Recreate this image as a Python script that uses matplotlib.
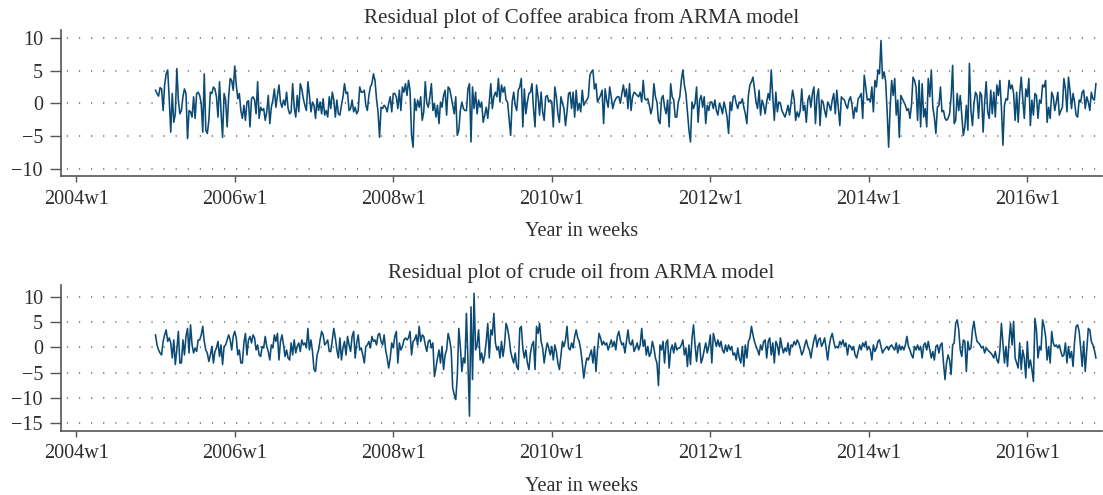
import numpy as np
import matplotlib
matplotlib.use("Agg")
import matplotlib.pyplot as plt

# weekly residuals, first observation is 2005w1 (week 52 counted from 2004w1)
start_week = 52

coffee_resid = [
    2.0, 1.5, 1.1, 2.4, 2.2, -1.1, 2.8, 4.5, 5.1, 0.7,
    -4.4, 1.5, -2.9, -1.6, 5.3, 0.5, -1.6, -1.1, 1.0, 2.2,
    1.5, -5.4, -1.1, -1.3, -2.1, 1.0, -2.3, 1.5, 1.7, 1.2,
    0.0, -4.4, 4.5, -4.1, -4.6, -2.6, 1.7, 1.5, 2.5, 2.2,
    1.0, -2.1, 3.3, -1.3, -5.2, 1.5, 0.5, -3.6, 1.0, 3.8,
    3.5, 2.0, 5.7, 2.8, 0.7, 1.5, -1.1, -2.3, -0.3, -2.6,
    0.2, 0.4, -3.6, 0.7, 1.0, 0.5, -1.6, 3.3, -2.3, -0.6,
    -1.1, -0.8, -2.6, -1.3, 1.2, -3.1, -0.6, 0.5, 2.2, -0.6,
    1.2, 2.8, 0.2, -0.6, 0.5, -0.3, 1.7, -0.8, -1.6, -1.3,
    3.0, -0.6, -2.1, 1.2, -1.3, 3.0, 2.2, 0.7, -0.3, -1.1,
    3.3, 1.2, -1.3, 0.2,
    -0.3, -2.3, 0.7, -1.1, 0.2, -1.6, 0.7, -1.8, -1.1, -2.1,
    1.0, -0.8, 1.7, 0.5, -2.1, 0.5, -1.6, -1.8, -0.3, 1.0,
    3.0, 1.5, 1.7, -1.1, -0.8, 0.5, -1.3, -0.6, -1.6, -1.1,
    2.5, 1.7, 1.7, 2.0, -0.3, -1.1, 1.2, 2.5, 3.0, 4.5,
    3.5, 0.7, -1.3, -5.2, -0.6, -0.8, -0.3, -0.6, -1.3, 0.0,
    1.0, -1.3, 1.5, 1.5, 1.0, -0.8, 2.0, -1.1, 2.5, 1.7,
    3.0, 1.2, 3.5, 2.0, -4.9, -6.7, 0.7, -1.1, 0.5, -0.6,
    1.0, -2.6, -1.3, 3.3, 0.0, -0.6, 1.0, 3.0, -1.1, 0.0,
    -2.1, -0.3, -3.1, 0.2, -0.6, 1.2, 2.0, -1.8, 2.5, 2.2,
    1.0, -0.3, -1.6, 1.0, -4.9, -4.1, -1.1, 0.2, -0.8, -1.1,
    -1.1, 2.2, 3.0, -5.9,
    2.5, -0.8, 1.7, -1.6, 0.5, -0.6, 0.2, -2.9, -1.8, -0.6,
    -2.3, 0.2, 3.0, -0.8, 1.0, 1.7, 1.0, 3.8, 0.2, 2.8,
    1.7, 2.5, 0.5, 0.2, -2.3, -4.9, 0.2, 1.7, -0.3, -1.1,
    2.0, 2.5, 3.8, -3.6, 2.2, -1.6, 0.2, 1.5, 1.7, 3.0,
    -0.8, -3.6, 2.8, 1.0, -1.8, 1.7, -1.3, -2.6, 1.0, 1.2,
    0.2, 0.5, 0.2, -3.6, 2.5, 1.0, -1.6, -2.9, 1.0, 0.0,
    -0.8, -3.4, -1.3, 1.5, 1.7, -0.8, 1.7, -2.1, 2.0, -1.1,
    0.0, -1.3, 2.0, -0.3, 0.2, 0.5, 1.0, 4.3, 4.8, 5.1,
    2.2, 3.0, 0.2, 0.7, 1.2, 2.0, -3.1, 2.2, 0.5, -0.6,
    2.5, 1.0, -0.8, 0.2, 0.7, 1.0, 1.0, 0.0, 1.5, 2.8,
    1.0, 2.2, -0.8, 3.0,
    -1.1, 1.0, 1.7, 1.5, 1.2, 1.0, 1.7, 0.2, 3.5, 0.7,
    0.5, 0.7, -0.3, -1.6, -0.6, 3.0, 1.0, 0.2, -2.6, -3.1,
    0.7, 1.2, -0.6, -1.6, 0.5, -3.6, 3.0, 1.0, 0.5, -2.1,
    -2.1, 0.2, 1.0, 3.5, 5.1, 2.8, 1.5, -1.3, -4.1, -5.9,
    0.2, -0.8, 0.0, 2.5, -2.9, 0.5, 1.2, -0.6, 1.0, -3.1,
    -0.3, -1.1, 0.2, 0.2, -0.8, 0.5, -1.1, -1.8, 0.0, -0.6,
    -1.6, 0.2, -0.8, -2.1, -4.6, 0.2, -1.1, 1.0, 1.2, 0.0,
    -0.8, 0.2, 0.0, 0.7, -0.6, -1.6, -3.1, 1.2, 2.8, 3.3,
    4.0, 2.2, 0.2, -0.8, 2.0, -1.8, 0.5, -0.3, -1.6, 0.2,
    1.5, 0.5, 5.1, 1.0, -2.6, 1.7, -1.3, 0.2, 0.0, -1.1,
    -1.6, -2.1, -1.3, -0.3,
    -1.8, 0.0, 2.0, 0.7, -2.6, -1.3, -2.1, -1.1, 2.2, -1.1,
    -0.3, -2.9, 0.5, 1.2, -0.6, 1.5, 2.5, -3.1, 1.0, 2.2,
    -3.4, 0.5, 0.2, -1.1, -2.1, 0.2, -0.3, -1.1, 0.5, 1.5,
    -1.6, 2.0, -0.8, -3.4, 1.0, 0.7, 0.5, -0.3, -0.8, 0.5,
    1.0, -0.3, -2.3, -0.6, -1.3, 0.7, 1.0, 1.5, -2.3, 4.3,
    2.5, 0.5, 0.7, 0.2, 2.5, -1.3, 3.5, 2.5, 5.1, 4.5,
    9.6, 3.8, 4.8, 3.5, -1.1, -6.7, -0.6, 3.5, 1.2, 3.8,
    -1.8, 0.5, -5.2, 1.2, 0.7, 0.2, -0.3, -1.1, -0.8, -2.3,
    -0.3, 4.0, 3.5, 2.5, -2.6, 3.5, -3.6, 3.0, -2.1, -0.8,
    -3.6, 3.8, 1.0, 5.1, -0.6, -2.1, -4.6, -0.6, -0.3, 2.5,
    -1.3, -1.1, -2.3, -2.6,
    -2.3, -1.6, 1.0, 5.8, -3.1, -2.6, 1.5, -1.1, 1.2, -1.8,
    -4.9, -3.6, -0.3, -4.1, 6.1, -1.1, -3.4, 0.0, 1.7, 1.2,
    -2.3, 1.7, 1.2, -4.4, 0.2, 3.3, -1.3, -2.3, 2.0, -1.6,
    1.7, -2.1, 2.8, 1.2, 3.5, -0.6, -6.4, -0.3, 0.7, 0.5,
    3.5, 2.2, 2.8, 1.5, -2.6, 1.7, -2.9, 1.5, 4.0, 0.7,
    -2.3, 2.2, 1.0, 3.8, -3.4, 0.5, -1.8, 1.5, 1.2, -2.3,
    0.5, 0.0, 2.8, 2.5, 3.5, -2.9, -0.6, -2.3, 1.7, 1.0,
    -1.1, 0.2, 1.7, -1.8, -1.1, -0.6, 3.8, 2.2, -1.3, 4.0,
    2.0, -0.8, 1.5, 0.2, -1.8, -2.1, 0.5, 0.2, 1.7, 2.0,
    -0.8, 1.0, 0.2, -1.1, 1.7, 0.7, 0.5, 3.0,
]

crude_resid = [
    2.5, 0.5, -0.5, -1.1, -1.5, 1.2, 2.5, 3.5, 1.2, 1.9,
    0.9, -2.1, 1.5, -3.4, -0.5, 3.2, -3.1, -3.1, 1.5, -1.5,
    2.2, 3.8, -1.1, 4.5, 0.5, -1.1, -0.1, -0.8, 1.5, 1.5,
    2.5, 4.2, 1.2, -0.5, -1.1, -2.8, -1.5, 0.2, -3.1, -0.8,
    -0.1, 1.2, -1.8, 0.5, -3.4, 0.2, 0.5, 1.5, 2.5, 1.5,
    -0.5, 2.2, 3.2, 1.9, -1.5, -0.5, -3.1, -3.1, 0.9, 2.8,
    -1.5, 1.5, 2.2, 0.9, 2.5, 1.9, -0.5, 0.5, -1.5, -1.8,
    0.2, -0.1, 2.2, 0.2, -0.8, -2.5, 0.5, -0.1, 2.5, 1.2,
    2.8, -2.5, 1.2, 2.5, 0.5, -1.8, -0.5, -2.1, -2.5, 0.9,
    -1.5, 1.5, -1.1, 0.2, 0.9, -0.8, 1.5, 0.5, 0.9, -0.1,
    3.8, -0.5, 1.5, -0.8,
    -4.4, -4.8, -1.5, -0.5, 1.5, 3.2, 2.5, 0.5, 0.9, 1.5,
    -0.8, -0.8, 1.5, 3.8, 1.9, -0.5, -2.1, 1.9, -2.5, -0.1,
    1.2, -1.5, 2.2, 0.5, -0.8, 2.2, 3.2, -2.1, 0.9, 2.5,
    -0.5, -0.1, -1.5, -3.1, 0.2, 0.5, 1.2, -0.1, 2.2, 1.2,
    1.5, 0.5, 2.5, 2.8, 1.2, 0.5, 2.5, -0.5, -2.1, -4.1,
    -2.1, 0.9, -0.1, 2.2, 3.2, -3.1, 0.9, -0.5, 0.2, 1.5,
    1.9, 1.5, 1.9, 3.2, -1.5, 1.2, 1.5, 2.5, 0.5,
    4.2, 1.2, 2.5, 2.2, 0.5, -0.8, 1.2, 1.5, -0.1, 0.9,
    -5.8, -4.1, -2.1, -0.5, -3.1, 0.2, -4.4, -1.5, -0.5, 2.8,
    1.5, -0.5, -8.1, -9.4, -10.4, -5.8, 3.8, 0.2, -4.8, -2.1,
    -3.1, 6.8, -2.8, -13.7, 8.1,
    -6.4, 10.8, -0.5, 0.5, 3.5, -2.5, -1.1, -3.1, -1.5, 1.2,
    4.8, -2.1, 3.5, 2.5, 6.8, 0.9, -0.5, 0.2, -2.1, 1.2,
    -1.8, 0.5, 4.8, 3.8, 1.9, -0.8, -2.1, -3.1, -1.1, -3.8,
    -4.4, 3.8, 4.2, -0.1, -2.1, -0.5, -3.1, -4.4, -1.1, 0.5,
    1.2, -4.4, 4.2, 2.8, 4.8, 1.2, -0.1, -3.1, -0.8, 0.9,
    -0.1, -1.5, 0.2, -2.5, 0.5, -0.8, -3.1, -4.4, -1.5, 1.2,
    0.2, 1.5, 4.2, -0.1, -0.5, 0.9, -0.1, 2.2, 3.5, 1.9,
    1.2, -0.5, -3.1, -6.1, -3.8, -2.1, -2.5, -1.5, -0.5, -3.1,
    0.2, -4.8, -0.5, 2.8, 1.9, 0.5, 1.2, 0.5, 0.9, -0.5,
    0.5, 1.5, 0.2, 1.2, -0.5, 2.2, 3.2, 1.5, 0.5, 0.9,
    -1.1, 1.2, 3.5, 0.9,
    0.5, 1.5, -0.8, -0.1, 0.9, -0.5, 0.5, 3.8, 0.2, 1.5,
    -1.5, 0.2, -1.8, -1.1, 1.2, -0.1, -2.1, -3.1, -7.6, 0.5,
    -0.5, 1.2, -3.1, 0.9, 1.5, -4.1, -0.5, 0.5, -1.1, 0.9,
    -0.5, -0.1, -0.1, 0.5, 1.5, -1.5, -0.1, -3.8, 0.5, -3.4,
    1.9, 4.5, 0.5, -2.8, 0.2, 0.9, -3.1, -2.1, -0.5, 0.9,
    -1.1, 0.2, 2.5, -3.1, 2.8, 1.5, 0.2, 1.5, 0.2, 1.2,
    -0.5, -1.1, 0.5, -0.8, 0.5, -0.5, 0.2, -1.5, -1.1, -2.5,
    -0.1, -2.1, -3.1, 0.2, -3.8, 0.5, -2.1, 1.2, 1.9, 4.2,
    2.5, 1.2, 0.2, -0.5, -1.5, 0.5, -0.5, 1.2, 1.5, -2.1,
    1.2, 1.9, -1.5, 0.9, -3.1, 1.2, 0.5, -1.5, 1.9, 0.2,
    -1.1, -0.1, -0.8, 0.9,
    -1.5, 0.5, 0.2, 1.2, 0.5, 1.5, 0.9, -0.1, -1.5, -0.8,
    0.5, 1.5, 0.2, -0.5, -2.1, -0.1, 1.5, 2.5, 0.2, 1.5,
    1.9, 0.2, 0.9, 1.9, -0.1, -2.5, 0.2, 1.9, 2.8, 1.2,
    -0.1, 0.2, -0.1, 1.2, 0.5, 1.5, 0.2, 0.9, -1.5, 0.5,
    0.2, -0.5, 0.2, -1.5, -2.1, -0.8, 0.5, -0.5, 0.9, 0.2,
    1.2, -0.5, 0.2, -0.5, -2.5, 0.5, -0.8, -0.1, 1.2, 1.5,
    0.2, -1.1, -0.5, -0.1, 0.2, -0.5, 0.2, 0.5, -0.1, -0.5,
    0.9, -1.1, 0.5, -0.5, 0.2, -0.5, 0.5, 2.2, 0.2, -0.5,
    -1.5, -2.1, 0.2, -0.5, 0.5, -0.5, 0.2, -2.1, 0.5, 0.9,
    -0.5, 1.2, -0.5, -2.1, -0.8, -2.5, 0.2, 0.5, -1.1, 0.5,
    0.9, -3.1, -6.4, -3.1,
    -1.5, -2.5, -5.4, 0.5, 0.9, 4.8, 5.5, 3.5, -0.5, -1.8,
    1.5, 1.2, -4.8, 1.2, -0.5, -0.1, 3.5, 5.2, 2.8, 1.2,
    0.9, 0.5, -0.1, 0.2, -1.1, -0.1, -0.5, -0.8, -1.1, -1.5,
    -2.1, -0.8, -2.5, -3.1, -0.5, 4.8, 0.9, -3.1, 0.2, -3.8,
    1.2, 4.8, 0.5, 5.2, -2.1, -3.1, -4.1, 0.9, -4.4, -0.5,
    -2.1, -6.1, 1.2, -4.1, -2.5, -4.4, -6.8, 5.8, 3.5, -2.1,
    0.2, -0.5, 5.5, 4.2, 2.2, -2.5, 0.2, -3.1, 3.2, 0.9,
    0.2, 0.5, -0.1, 0.5, -0.8, -1.8, -1.5, 0.9, -3.1, 0.2,
    -2.1, -0.8, -3.8, 1.2, 4.2, 4.5, 3.2, -0.1, -3.8, 1.2,
    -4.8, -0.5, 3.8, 3.5, 1.2, 0.5, -0.5, -2.1,
]

tick_years = [2004, 2006, 2008, 2010, 2012, 2014, 2016]
tick_labels = [f"{y}w1" for y in tick_years]
titles = ["Residual plot of Coffee arabica from ARMA model",
          "Residual plot of crude oil from ARMA model"]
yticks_top = [-10, -5, 0, 5, 10]
yticks_bottom = [-15, -10, -5, 0, 5, 10]

plt.rcParams['font.family'] = ['Liberation Serif', 'DejaVu Serif']
plt.rcParams['font.size'] = 14.5

line_col = "#0b4a74"
text_col = "#2e2e2e"
axis_col = "#555555"


def draw_panel(ax, values, title, yticks, ylim, title_pad):
    weeks = start_week + np.arange(len(values))
    ax.plot(weeks, values, color=line_col, linewidth=1.15)
    ax.set_xlim(-10, 673)
    ax.set_ylim(*ylim)
    ax.set_xticks([(y - 2004) * 52 for y in tick_years])
    ax.set_xticklabels(tick_labels)
    ax.set_yticks(yticks)
    ax.yaxis.grid(True, color="#8f8f8f", linewidth=1.5, linestyle=(3, (0.6, 5.2)))
    ax.set_axisbelow(True)
    for side in ["top", "right"]:
        ax.spines[side].set_visible(False)
    for side in ["left", "bottom"]:
        ax.spines[side].set_color(axis_col)
        ax.spines[side].set_linewidth(1.2)
    ax.tick_params(axis="y", length=8, width=1.0, color=axis_col, pad=5, labelcolor=text_col)
    ax.tick_params(axis="x", length=4.5, width=1.0, color=axis_col, pad=5, labelcolor=text_col)
    ax.set_title(title, color=text_col, fontsize=15.2, pad=title_pad)
    ax.set_xlabel("Year in weeks", color=text_col, labelpad=10)


fig = plt.figure(figsize=(11.03, 4.95), dpi=100)
ax1 = fig.add_axes([0.0553, 0.6438, 0.9438, 0.2949])
ax2 = fig.add_axes([0.0553, 0.1299, 0.9438, 0.2943])

draw_panel(ax1, coffee_resid, titles[0], yticks_top, (-11.15, 11.15), 5.5)
draw_panel(ax2, crude_resid, titles[1], yticks_bottom, (-16.6, 12.45), 5)

fig.savefig("out.png", dpi=100)
